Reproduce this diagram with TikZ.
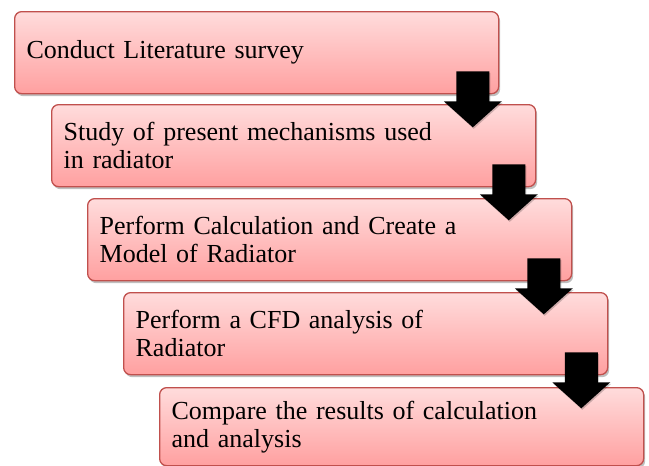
\documentclass[tikz,border=0pt]{standalone}
\usepackage{fontspec}
\setmainfont{Liberation Serif}
\usetikzlibrary{shadows}
\definecolor{boxtop}{RGB}{255,220,220}
\definecolor{boxbot}{RGB}{255,160,160}
\definecolor{boxline}{RGB}{192,80,77}
\tikzset{
  stepbox/.style={draw=boxline, line width=1.3pt, rounded corners=7pt,
    top color=boxtop, bottom color=boxbot,
    minimum width=484pt, minimum height=82pt, inner xsep=12pt, inner ysep=0pt,
    text width=460pt, align=left, anchor=north west,
    font=\fontsize{26}{28}\selectfont,
    drop shadow={shadow xshift=1.5pt, shadow yshift=-2.5pt, fill=black, opacity=0.25}},
  downarrow/.style={fill=black,
    drop shadow={shadow xshift=1pt, shadow yshift=-1.5pt, fill=black, opacity=0.2}}
}
\newcommand{\myarrow}[1]{%
  \fill[downarrow] (#1) ++(-16.5,0) -- ++(33,0) -- ++(0,30) -- ++(12.5,0)
    -- ++(-29,26) -- ++(-29,-26) -- ++(12.5,0) -- cycle;}
\begin{document}
\begin{tikzpicture}[x=1pt,y=-1pt]
\useasboundingbox (0,0) rectangle (649,466);
\node[stepbox] (b1) at (14,11) {Conduct Literature survey};
\node[stepbox] (b2) at (51,104) {Study of present mechanisms used\\in radiator};
\node[stepbox] (b3) at (87,198) {Perform Calculation and Create a\\Model of Radiator};
\node[stepbox] (b4) at (123,292) {Perform a CFD analysis of\\Radiator};
\node[stepbox, minimum height=78pt] (b5) at (159,387) {Compare the results of calculation\\and analysis};
\coordinate (a1) at ([xshift=-26.5pt,yshift=23pt]b1.south east);
\coordinate (a2) at ([xshift=-27.5pt,yshift=23pt]b2.south east);
\coordinate (a3) at ([xshift=-28.5pt,yshift=23pt]b3.south east);
\coordinate (a4) at ([xshift=-27pt,yshift=23pt]b4.south east);
\myarrow{a1}
\myarrow{a2}
\myarrow{a3}
\myarrow{a4}
\end{tikzpicture}
\end{document}
